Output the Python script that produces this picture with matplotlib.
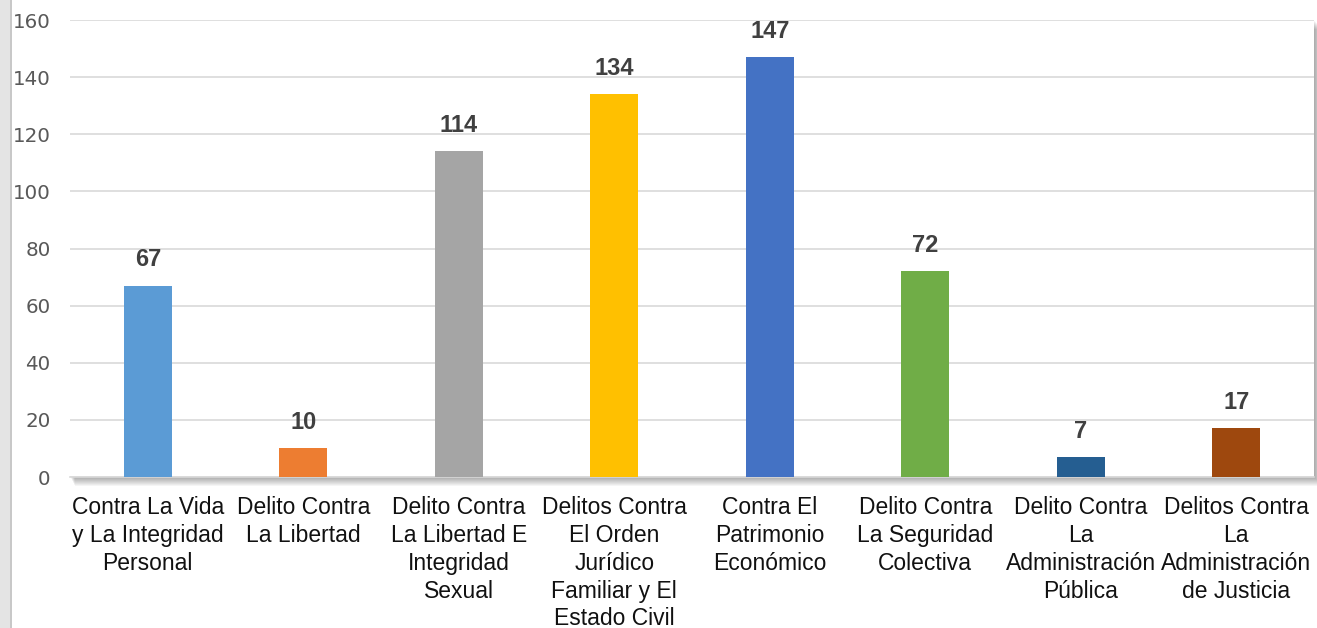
import numpy as np
import matplotlib.pyplot as plt
from matplotlib.patches import Rectangle

plt.rcParams['font.family'] = ['Liberation Sans', 'DejaVu Sans']

#=== Data ===#
categories = ['Contra La Vida\ny La Integridad\nPersonal',
              'Delito Contra\nLa Libertad',
              'Delito Contra\nLa Libertad E\nIntegridad\nSexual',
              'Delitos Contra\nEl Orden\nJurídico\nFamiliar y El\nEstado Civil',
              'Contra El\nPatrimonio\nEconómico',
              'Delito Contra\nLa Seguridad\nColectiva',
              'Delito Contra\nLa\nAdministración\nPública',
              'Delitos Contra\nLa\nAdministración\nde Justicia']
values = [67, 10, 114, 134, 147, 72, 7, 17]
colors = ['#5B9BD5', '#ED7D31', '#A5A5A5', '#FFC000',
          '#4472C4', '#70AD47', '#255E91', '#9E480E']
yticks = [0, 20, 40, 60, 80, 100, 120, 140, 160]

#=== Figure ===#
fig = plt.figure(figsize=(13.17, 6.28), dpi=100)
ax = fig.add_axes([0.0532, 0.2404, 0.9445, 0.7276])
ax.set_zorder(5)

# gray strip on the left edge
fig.patches.append(Rectangle((0, 0), 10 / 1317, 1, transform=fig.transFigure,
                             facecolor='#E4E4E4', edgecolor='none', zorder=0))
fig.patches.append(Rectangle((10 / 1317, 0), 1.5 / 1317, 1, transform=fig.transFigure,
                             facecolor='#C8C8C8', edgecolor='none', zorder=0))

# soft shadow behind plot area (bottom and right)
x0, y0, w, h = ax.get_position().bounds
for k in range(1, 10):
    dx = k * 0.5 / 1317
    dy = k * 1.0 / 628
    fig.patches.append(Rectangle((x0 + dx, y0 - dy), w + dx, h,
                                 transform=fig.transFigure, facecolor='black',
                                 edgecolor='none', alpha=0.04, zorder=1))

x = np.arange(len(values))
bars = ax.bar(x, values, width=0.31, color=colors, zorder=3)

for xi, v in zip(x, values):
    ax.text(xi, v + 5, str(v), ha='center', va='bottom', fontsize=17,
            fontweight='bold', color='#404040')

ax.set_xlim(-0.5, len(values) - 0.5)
ax.set_ylim(0, 160)
ax.set_yticks(yticks)
ax.set_xticks(x)
ax.set_xticklabels(categories, fontsize=16.5, color='#111111', linespacing=1.26)
ax.tick_params(axis='y', labelsize=14.3, colors='#595959', length=0, pad=14)
ax.tick_params(axis='x', length=0, pad=14)
for lbl in ax.get_yticklabels():
    lbl.set_fontfamily(['DejaVu Sans'])

ax.grid(axis='y', color='#D9D9D9', linewidth=1.2, zorder=0)
ax.set_axisbelow(True)
for side in ['top', 'right', 'left']:
    ax.spines[side].set_visible(False)
ax.spines['bottom'].set_color('#D9D9D9')
ax.spines['bottom'].set_linewidth(1.2)
ax.set_facecolor('white')

fig.savefig('out.png', dpi=100, facecolor='white')
